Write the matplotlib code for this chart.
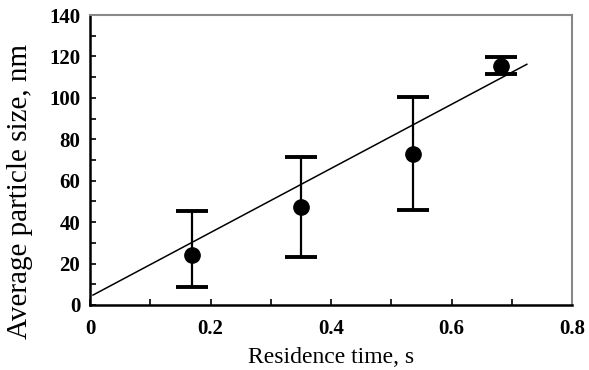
import matplotlib
matplotlib.use("Agg")
import matplotlib.pyplot as plt
from matplotlib.ticker import MultipleLocator

# Data
time_s = [0.17, 0.35, 0.536, 0.682]
size_nm = [24.1, 47.5, 72.7, 115.6]
err_low = [8.5, 23.3, 45.9, 111.5]
err_high = [45.4, 71.6, 100.4, 119.6]
fit_x = [0.005, 0.725]
fit_y = [4.8, 116.2]

plt.rcParams['font.family'] = ['Liberation Serif', 'DejaVu Serif']

fig = plt.figure(figsize=(5.89, 3.70), dpi=100)
ax = fig.add_axes([90/589, 1-305/370, (572-90)/589, (305-15)/370])

yerr = [[s - lo for s, lo in zip(size_nm, err_low)],
        [hi - s for s, hi in zip(size_nm, err_high)]]
ax.errorbar(time_s, size_nm, yerr=yerr, fmt='o', color='black',
            markersize=11, elinewidth=1.6, capsize=11.5, capthick=2.8, zorder=3)
ax.plot(fit_x, fit_y, color='black', linewidth=1.1, zorder=2)

ax.set_xlim(0, 0.8)
ax.set_ylim(0, 140)
ax.xaxis.set_major_locator(MultipleLocator(0.2))
ax.xaxis.set_minor_locator(MultipleLocator(0.1))
ax.yaxis.set_major_locator(MultipleLocator(20))
ax.yaxis.set_minor_locator(MultipleLocator(10))
ax.set_xticklabels([], minor=True)
ax.xaxis.set_major_formatter(matplotlib.ticker.FuncFormatter(lambda v, p: '0' if v == 0 else f'{v:.1f}'))
ax.tick_params(which='both', direction='in', length=4, width=1.2, labelsize=15)
ax.tick_params(axis='x', which='major', pad=10)
ax.tick_params(axis='y', which='major', pad=7)
for lab in ax.get_xticklabels() + ax.get_yticklabels():
    lab.set_fontweight('bold')

for side in ['left', 'bottom']:
    ax.spines[side].set_linewidth(1.8)
    ax.spines[side].set_color('black')
for side in ['top', 'right']:
    ax.spines[side].set_linewidth(1.5)
    ax.spines[side].set_color('#888888')

ax.set_xlabel('Residence time, s', fontsize=17, labelpad=6)
ax.set_ylabel('Average particle size, nm', fontsize=21)
ax.yaxis.set_label_coords(-0.118, 0.39)

fig.savefig('out.png', dpi=100)
